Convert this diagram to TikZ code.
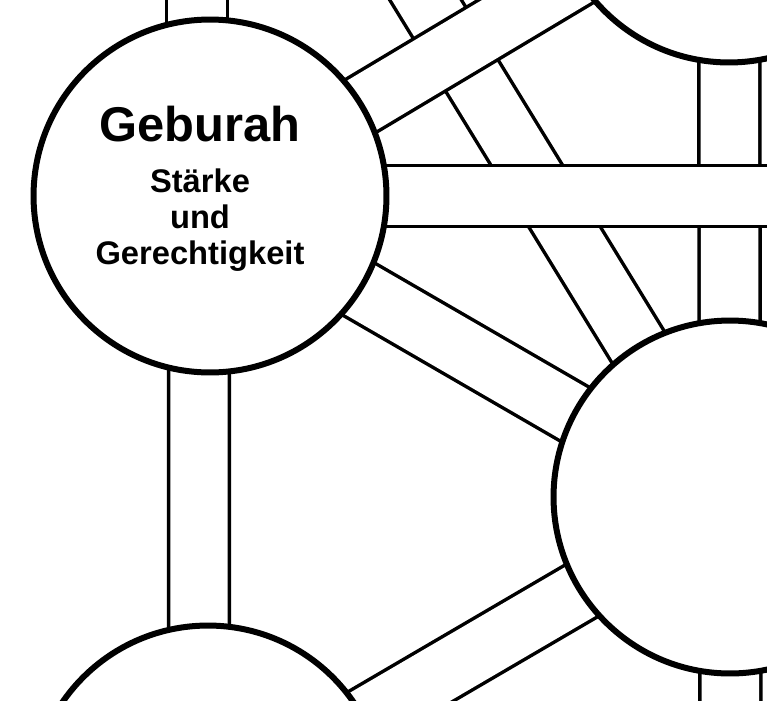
\documentclass[tikz,border=0pt]{standalone}
\usepackage{fontspec}
\setmainfont{Liberation Sans}
\usetikzlibrary{backgrounds}

\tikzset{
  sephirah/.style={circle, draw, line width=0.12cm, fill=white, minimum size=7.06cm, inner sep=0pt},
  channel/.style={draw=black, line width=0.07cm, double=white, double distance=1.15cm},
  sephname/.style={align=center, inner sep=0pt, font=\bfseries\fontsize{18.6pt}{20.6pt}\selectfont}
}

\begin{document}
\begin{tikzpicture}[x=0.02cm, y=-0.02cm]
  \useasboundingbox (0,0) rectangle (767,700);

  % Sephiroth
  \node[sephirah] (binah) at (210,-352) {};
  \node[sephirah] (daath) at (729,-114) {};
  \node[sephirah] (geburah) at (210,196) {};
  \node[sephirah] (chesed) at (1256,196) {};
  \node[sephirah] (tiphareth) at (730,497) {};
  \node[sephirah] (hod) at (208,802) {};
  \node[sephirah] (yesod) at (731,1104) {};

  % Name
  \node[sephname, anchor=north] (geburahtext) at ([shift={(-10,-90)}]geburah.center)
    {{\fontsize{27.8pt}{20.6pt}\selectfont Geburah}\\[8.2pt] Stärke\\ und\\ Gerechtigkeit};

  % Paths
  \begin{scope}[on background layer]
    \path[channel] (binah.center) -- (tiphareth.center);
    \path[channel] (daath.center) -- (tiphareth.center);
    \path[channel] (geburah.center) -- (daath.center);
    \path[channel] (geburah.center) -- (chesed.center);
    \path[channel] ([xshift=-0.26cm]binah.center) -- ([xshift=-0.26cm]geburah.center);
    \path[channel] ([xshift=-0.22cm]geburah.center) -- ([xshift=-0.18cm]hod.center);
    \path[channel] ([yshift=-0.14cm]geburah.center) -- ([yshift=-0.14cm]tiphareth.center);
    \path[channel] ([yshift=-0.14cm]tiphareth.center) -- ([yshift=-0.14cm]hod.center);
    \path[channel] (tiphareth.center) -- (yesod.center);
  \end{scope}
\end{tikzpicture}
\end{document}
